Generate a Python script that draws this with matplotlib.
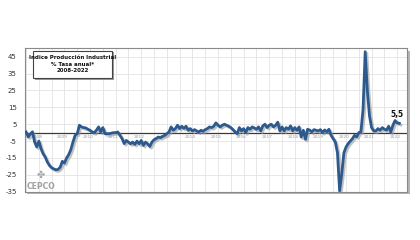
import matplotlib
matplotlib.use("Agg")
import matplotlib.pyplot as plt
import matplotlib.patheffects as pe
from matplotlib.patches import Rectangle
import numpy as np

# Monthly annual rate (%) of the industrial production index, Jan 2008 - Aug 2022
y2008 = [0.4, -2.6, -0.8, 0.5, -5.5, -8.5, -5.0, -9.5, -12.5, -14.5, -17.5, -19.5]
y2009 = [-20.8, -21.5, -22.0, -21.8, -20.5, -17.0, -18.0, -15.0, -13.0, -10.0, -5.5, -1.6]
y2010 = [-0.6, 4.4, 3.4, 3.0, 2.8, 2.0, 1.4, 0.4, 0.0, 1.5, 3.4, 0.4]
y2011 = [3.0, -0.6, -0.6, -0.6, -0.3, 0.0, 0.0, 0.4, -1.6, -3.5, -6.5, -4.6]
y2012 = [-5.6, -6.6, -5.6, -7.0, -5.0, -6.6, -4.6, -7.6, -5.6, -6.6, -8.2, -5.6]
y2013 = [-4.2, -3.5, -2.6, -3.0, -2.2, -1.6, -0.6, 0.4, 3.4, 1.4, 2.4, 4.4]
y2014 = [2.4, 3.8, 2.5, 3.8, 1.4, 2.4, 1.0, 1.8, 1.0, 0.4, 1.4, 0.8]
y2015 = [1.8, 2.4, 3.4, 3.0, 3.8, 5.8, 4.4, 3.4, 4.4, 5.0, 4.4, 3.8]
y2016 = [3.0, 1.8, 0.4, -0.6, 3.0, 1.0, 2.4, 0.0, 3.0, 2.0, 3.4, 2.8]
y2017 = [2.0, 3.4, 1.0, 4.0, 5.0, 3.0, 4.4, 5.0, 3.4, 4.4, 6.2, 1.0]
y2018 = [3.4, 1.0, 3.0, 2.0, 4.0, 1.0, 3.0, 1.4, 3.4, -2.6, 1.4, -4.0]
y2019 = [2.0, 1.5, 0.5, 1.8, 1.4, 1.0, 1.8, 0.0, 1.6, 0.5, 2.0, -1.6]
y2020 = [-3.6, -5.6, -12.0, -34.5, -24.5, -12.0, -8.6, -6.5, -5.0, -3.6, -1.6, -2.5]
y2021 = [0.0, 0.6, 14.0, 48.0, 25.0, 10.0, 3.0, 1.0, 1.0, 2.4, 1.4, 3.0]
y2022 = [2.0, 1.5, 3.8, 0.4, 4.4, 7.2, 5.8, 5.5]

years = list(range(2008, 2023))
yticks = [45, 35, 25, 15, 5, -5, -15, -25, -35]
title_lines = ["Indice Producción Industrial", "% Tasa anual*", "2008-2022"]
last_label = "5,5"

values = (y2008 + y2009 + y2010 + y2011 + y2012 + y2013 + y2014 + y2015 +
          y2016 + y2017 + y2018 + y2019 + y2020 + y2021 + y2022)
months = np.arange(len(values))

W, H = 420, 240
fig = plt.figure(figsize=(4.2, 2.4), dpi=100)
fig.patch.set_facecolor("white")

l, r, b, t = 25 / W, 407 / W, 1 - 191.7 / H, 1 - 48.3 / H
# plot area shadow
fig.patches.append(Rectangle((l + 2.5 / W, b - 2.5 / H), r - l, t - b,
                             transform=fig.transFigure, facecolor="#b5b5b5",
                             edgecolor="none", zorder=0))
ax = fig.add_axes([l, b, r - l, t - b])
ax.set_zorder(1)
ax.set_facecolor("white")

ax.set_xlim(-0.5, 178.6)
ax.set_ylim(-35, 50)

# grid
for m in range(0, 180, 6):
    ax.axvline(m, color="#e3e3e3", lw=0.6, zorder=1)
for v in yticks:
    ax.axhline(v, color="#e3e3e3", lw=0.6, zorder=1)
ax.axhline(0, color="#3a3a3a", lw=0.9, zorder=2)

ax.plot(months, values, color="#2c5a8f", lw=2.0, zorder=4,
        solid_joinstyle="round",
        path_effects=[pe.SimpleLineShadow(offset=(1.2, -1.2), shadow_color="#9a9a9a", alpha=0.6),
                      pe.Normal()])

ax.set_yticks(yticks)
ax.set_yticklabels([str(v) for v in yticks], fontsize=5, color="#333333")
ax.set_xticks([])
ax.tick_params(axis="y", length=0, pad=6)
for s in ax.spines.values():
    s.set_color("#8a8a8a")
    s.set_linewidth(0.8)

# year labels under zero line
for k, yr in enumerate(years):
    ax.text(12 * k + 5, -1.2, str(yr), fontsize=3.2, color="#9a9a9a",
            ha="center", va="top", zorder=3)

ax.text(months[-1] - 1, values[-1] + 2.6, last_label, fontsize=5.5,
        fontweight="bold", ha="center", va="bottom", color="#111111", zorder=5)

# CEPCO logo (text)
ax.text(6.8, -25.2, "✤", fontsize=7, color="#a8a8a8", ha="center", va="center", zorder=3)
ax.text(6.8, -31.8, "CEPCO", fontsize=5.5, fontweight="bold", color="#a0a0a0",
        ha="center", va="center", zorder=3)

# title box with shadow
bx0, bx1 = 33 / W, 112 / W
by1, by0 = 1 - 50.5 / H, 1 - 78 / H
fig.patches.append(Rectangle((bx0 + 2 / W, by0 - 2 / H), bx1 - bx0, by1 - by0,
                             transform=fig.transFigure, facecolor="#9a9a9a",
                             edgecolor="none", zorder=5))
fig.patches.append(Rectangle((bx0, by0), bx1 - bx0, by1 - by0,
                             transform=fig.transFigure, facecolor="white",
                             edgecolor="#444444", lw=0.8, zorder=6))
fig.text((bx0 + bx1) / 2, (by0 + by1) / 2, "\n".join(title_lines),
         fontsize=4.0, fontweight="bold", ha="center", va="center",
         linespacing=1.4, color="#111111", zorder=7,
         family=["Liberation Sans Narrow", "DejaVu Sans"])

fig.savefig("out.png", dpi=100, facecolor="white")
